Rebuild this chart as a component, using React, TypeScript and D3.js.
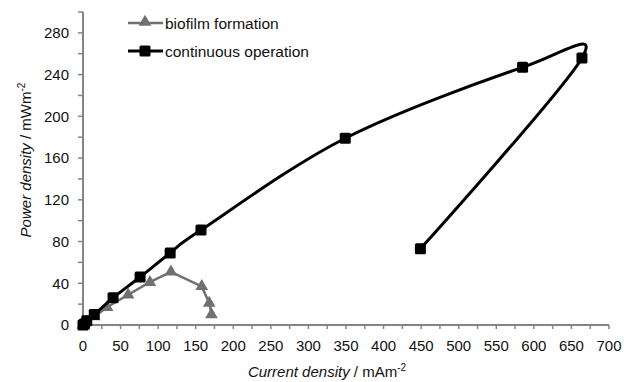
import React from "react";
import * as d3 from "d3";

// biofilm formation (grey triangles)
const bioX = [0, 5, 15, 32, 60, 89, 117, 158, 168, 171];
const bioY = [0, 3, 8, 17, 29, 41, 51, 37, 21, 10];

// continuous operation (black squares, smoothed)
const contX = [0, 2, 5, 15, 40, 76, 116, 157, 349, 585, 664, 449];
const contY = [0, 1, 4, 10, 26, 46, 69, 91, 179, 247, 256, 73];

const xTicks = d3.range(0, 701, 50);
const xMinor = d3.range(0, 701, 25);
const yTicks = d3.range(0, 281, 40);
const yMinor = d3.range(0, 301, 20);

const W = 636;
const H = 382;
const margin = { top: 12, right: 27, bottom: 57, left: 83 };
const font = "Liberation Sans, Arial, sans-serif";

export default function App() {
  const innerW = W - margin.left - margin.right;
  const innerH = H - margin.top - margin.bottom;

  const x = d3.scaleLinear().domain([0, 700]).range([0, innerW]);
  const y = d3.scaleLinear().domain([0, 300]).range([innerH, 0]);

  const bio = bioX.map((v, i) => [v, bioY[i]] as [number, number]);
  const cont = contX.map((v, i) => [v, contY[i]] as [number, number]);

  const bioLine = d3
    .line<[number, number]>()
    .x((d) => x(d[0]))
    .y((d) => y(d[1]));

  // Excel-style smoothed line
  const contLine = d3
    .line<[number, number]>()
    .x((d) => x(d[0]))
    .y((d) => y(d[1]))
    .curve(d3.curveCatmullRom.alpha(0));

  const tri = d3.symbol().type(d3.symbolTriangle).size(70)();
  const axisColor = "#858585";
  const grey = "#707070";

  return (
    <svg
      width={W}
      height={H}
      style={{ position: "absolute", left: 0, top: 0, background: "#fff" }}
      fontFamily={font}
    >
      <g transform={`translate(${margin.left},${margin.top})`}>
        {/* y axis */}
        <line x1={0} x2={0} y1={0} y2={innerH} stroke={axisColor} strokeWidth={2} />
        {yMinor.map((t) => (
          <line key={"ym" + t} x1={-5} x2={0} y1={y(t)} y2={y(t)} stroke={axisColor} strokeWidth={1.5} />
        ))}
        {yTicks.map((t) => (
          <text key={"yt" + t} x={-14} y={y(t)} dy="0.36em" textAnchor="end" fontSize={15} fill="#111">
            {t}
          </text>
        ))}
        {/* x axis */}
        <line x1={0} x2={innerW} y1={innerH} y2={innerH} stroke={axisColor} strokeWidth={2} />
        {xMinor.map((t) => (
          <line key={"xm" + t} x1={x(t)} x2={x(t)} y1={innerH} y2={innerH + 4} stroke={axisColor} strokeWidth={1.5} />
        ))}
        {xTicks.map((t) => (
          <text key={"xt" + t} x={x(t)} y={innerH + 26} textAnchor="middle" fontSize={15} fill="#111">
            {t}
          </text>
        ))}

        {/* biofilm series */}
        <path d={bioLine(bio) || ""} fill="none" stroke={grey} strokeWidth={2.5} />
        {bio.map((d, i) => (
          <path key={"b" + i} d={tri || ""} transform={`translate(${x(d[0])},${y(d[1])})`} fill={grey} />
        ))}

        {/* continuous series */}
        <path d={contLine(cont) || ""} fill="none" stroke="#000" strokeWidth={3} strokeLinejoin="round" />
        {cont.map((d, i) => (
          <rect key={"c" + i} x={x(d[0]) - 5.5} y={y(d[1]) - 5.5} width={11} height={11} rx={1.5} fill="#000" />
        ))}
      </g>

      {/* legend */}
      <g>
        <line x1={128} x2={163} y1={23} y2={23} stroke={grey} strokeWidth={2.5} />
        <path d={tri || ""} transform="translate(145,22)" fill={grey} />
        <text x={165} y={23} dy="0.36em" fontSize={15.5} fill="#111">
          biofilm formation
        </text>
        <line x1={128} x2={163} y1={51} y2={51} stroke="#000" strokeWidth={3} />
        <rect x={139.5} y={45.5} width={11} height={11} rx={1.5} fill="#000" />
        <text x={165} y={51} dy="0.36em" fontSize={15.5} fill="#111">
          continuous operation
        </text>
      </g>

      {/* axis titles */}
      <text x={327} y={377} textAnchor="middle" fontSize={15} fill="#111">
        <tspan fontStyle="italic">Current density</tspan>
        <tspan> / mAm</tspan>
        <tspan dy={-6} fontSize={10}>-2</tspan>
      </text>
      <text
        transform="translate(31,160) rotate(-90)"
        textAnchor="middle"
        fontSize={15}
        fill="#111"
      >
        <tspan fontStyle="italic">Power density</tspan>
        <tspan> / mWm</tspan>
        <tspan dy={-6} fontSize={10}>-2</tspan>
      </text>
    </svg>
  );
}
